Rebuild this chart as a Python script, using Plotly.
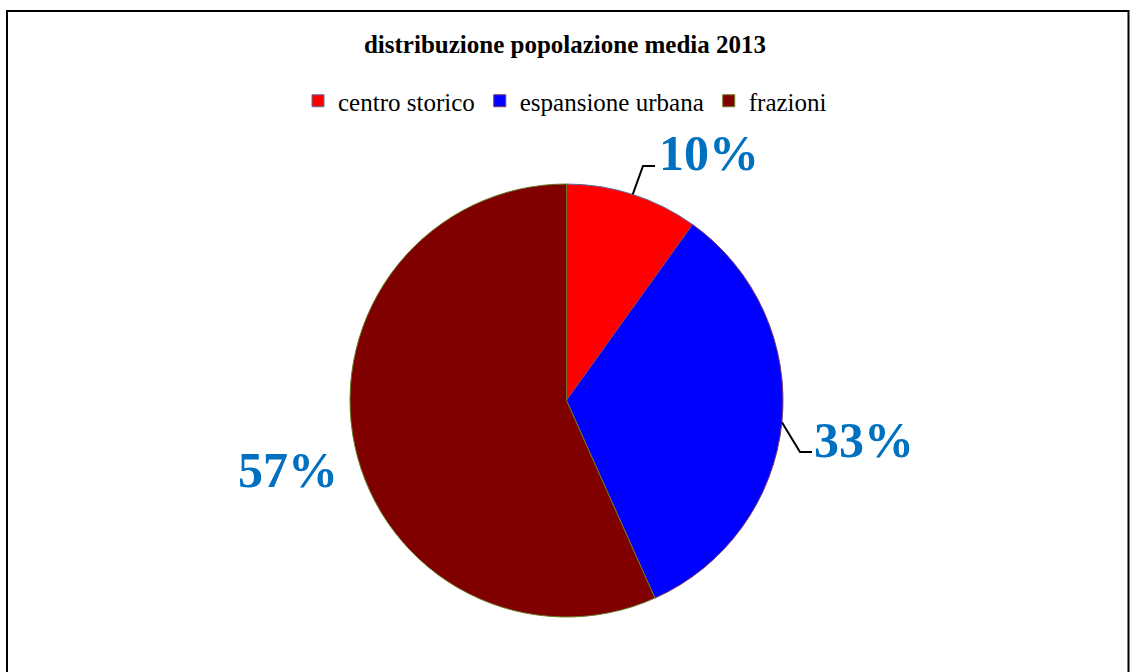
import math
import plotly.graph_objects as go

categories = ["centro storico", "espansione urbana", "frazioni"]
values = [9.9, 33.4, 56.7]
slice_colors = ["#FF0000", "#0000FF", "#800000"]
edge_colors = ["#5B6FA6", "#7A3A6A", "#6B7A2A"]
title_text = "distribuzione popolazione media 2013"

W, H = 1130, 672
cx, cy, R = 566.5, 400.5, 216.5

def px(x):
    return x / W

def py(y):
    return 1 - y / H

SERIF = "Liberation Serif, Times New Roman, serif"

fig = go.Figure()
fig.add_trace(go.Pie(
    labels=categories,
    values=values,
    sort=False,
    direction="clockwise",
    rotation=0,
    marker=dict(colors=slice_colors, line=dict(color=edge_colors, width=1)),
    textinfo="none",
    hoverinfo="label+percent",
    domain=dict(x=[px(cx - R), px(cx + R)], y=[py(cy + R), py(cy - R)]),
    showlegend=True,
))

# label placement (layout offsets in px) per slice
label_pos = [(709, 153), (864, 440), (288, 470)]
leader = [True, True, False]
elbow = [(643, 166, 655), (800, 452, 812), None]

total = sum(values)
cum = 0
annotations = []
shapes = []
for i, v in enumerate(values):
    mid = (cum + v / 2) / total * 2 * math.pi
    cum += v
    ex = cx + R * math.sin(mid)
    ey = cy - R * math.cos(mid)
    pct = round(v / total * 100)
    lx, ly = label_pos[i]
    annotations.append(dict(
        x=px(lx), y=py(ly), xref="paper", yref="paper",
        text=f"<b>{pct}%</b>", showarrow=False,
        xanchor="center", yanchor="middle",
        font=dict(family=SERIF, size=50, color="#0070C0"),
    ))
    if leader[i] and elbow[i]:
        bx, by, hx = elbow[i]
        shapes.append(dict(
            type="path", xref="paper", yref="paper",
            path=f"M {px(ex)} {py(ey)} L {px(bx)} {py(by)} L {px(hx)} {py(by)}",
            line=dict(color="black", width=2),
        ))

shapes.append(dict(
    type="rect", xref="paper", yref="paper",
    x0=px(7), x1=px(1128.5), y0=-0.1, y1=py(11),
    line=dict(color="black", width=2), fillcolor="rgba(0,0,0,0)",
))

fig.update_layout(
    width=W, height=H,
    margin=dict(l=0, r=0, t=0, b=0),
    paper_bgcolor="white",
    plot_bgcolor="white",
    font=dict(family=SERIF, color="black"),
    title=dict(
        text=f"<b>{title_text}</b>",
        x=0.5, xanchor="center",
        y=py(44), yanchor="middle",
        font=dict(family=SERIF, size=25, color="black"),
    ),
    legend=dict(
        orientation="h",
        x=0.5, xanchor="center",
        y=py(101), yanchor="middle",
        font=dict(family=SERIF, size=25, color="black"),
        itemwidth=30,
        traceorder="normal",
    ),
    annotations=annotations,
    shapes=shapes,
)

fig.write_html("out.html")
